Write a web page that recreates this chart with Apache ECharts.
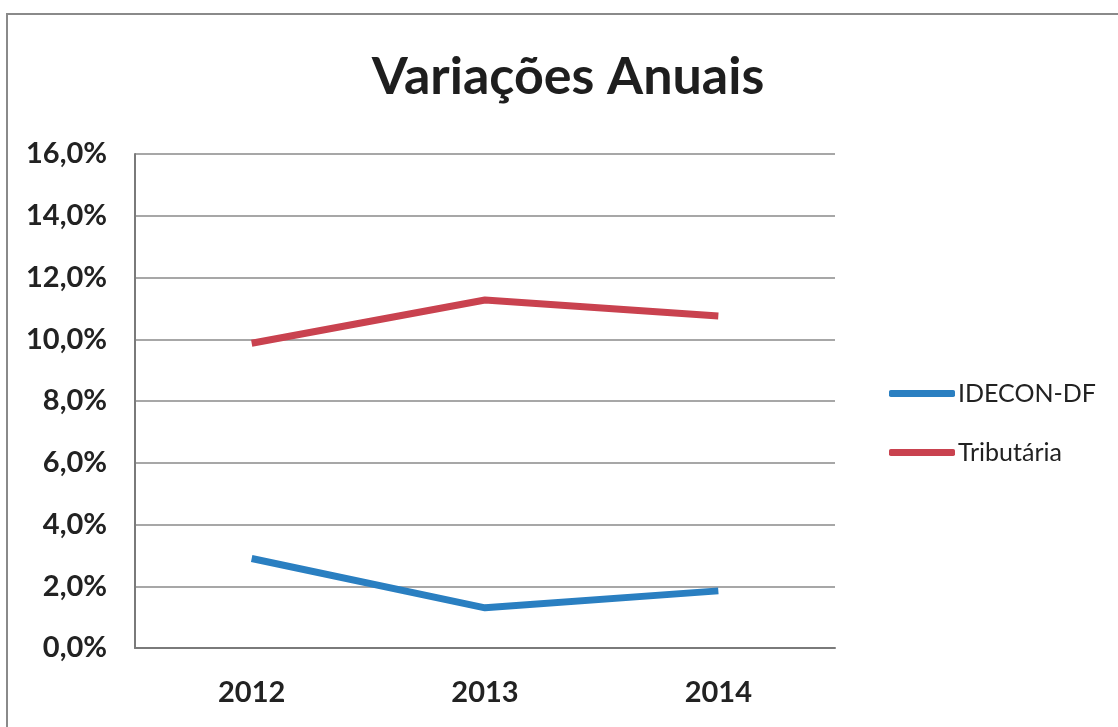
<!DOCTYPE html>
<html lang="pt">
<head>
    <meta charset="UTF-8">
    <title>Variações Anuais</title>
    <style>
        html, body { margin: 0; padding: 0; background: #fff; }
        #chart { width: 1118px; height: 727px; }
    </style>
</head>
<body>
<div id="chart"></div>
<script src="https://cdn.jsdelivr.net/npm/echarts@6/dist/echarts.min.js"></script>
<script>
    var anos = ['2012', '2013', '2014'];
    var idecon = [2.9, 1.3, 1.85];      // IDECON-DF (%)
    var tributaria = [9.87, 11.27, 10.75]; // Tributária (%)

    var chart = echarts.init(document.getElementById('chart'));
    var fonte = 'Lato, "Open Sans", sans-serif';

    var option = {
        backgroundColor: '#fff',
        animation: false,
        title: {
            text: 'Variações Anuais',
            left: 563,
            textAlign: 'center',
            top: 46,
            textStyle: { fontFamily: fonte, fontSize: 52, fontWeight: 'bold', color: '#1e1e1e' }
        },
        graphic: [{
            type: 'rect',
            shape: { x: 7, y: 14, width: 1130, height: 740 },
            style: { fill: 'none', stroke: '#8a8a8a', lineWidth: 2 }
        }],
        legend: {
            orient: 'vertical',
            left: 884,
            top: 376,
            itemWidth: 66,
            itemHeight: 7,
            itemGap: 34,
            icon: 'roundRect',
            textStyle: { fontFamily: fonte, fontSize: 25, color: '#222', padding: [0, 0, 0, -2] },
            data: ['IDECON-DF', 'Tributária']
        },
        grid: { left: 135, right: 283, top: 154, bottom: 79 },
        xAxis: {
            type: 'category',
            data: anos,
            boundaryGap: true,
            axisLine: { lineStyle: { color: '#7a7a7a', width: 2 } },
            axisTick: { show: false },
            axisLabel: { fontFamily: fonte, fontSize: 29, fontWeight: 'bold', color: '#222', margin: 30 }
        },
        yAxis: {
            type: 'value',
            min: 0,
            max: 16,
            interval: 2,
            axisLine: { show: true, lineStyle: { color: '#7a7a7a', width: 2 } },
            axisTick: { show: false },
            splitLine: { lineStyle: { color: '#8a8a8a', width: 1.6 } },
            axisLabel: {
                fontFamily: fonte, fontSize: 29, fontWeight: 'bold', color: '#222', margin: 28,
                formatter: function (v) { return v.toFixed(1).replace('.', ',') + '%'; }
            }
        },
        series: [
            {
                name: 'IDECON-DF',
                type: 'line',
                data: idecon,
                symbol: 'none',
                lineStyle: { color: '#2a7fc1', width: 7 },
                itemStyle: { color: '#2a7fc1' }
            },
            {
                name: 'Tributária',
                type: 'line',
                data: tributaria,
                symbol: 'none',
                lineStyle: { color: '#c9424f', width: 7 },
                itemStyle: { color: '#c9424f' }
            }
        ]
    };
    chart.setOption(option);
</script>
</body>
</html>
